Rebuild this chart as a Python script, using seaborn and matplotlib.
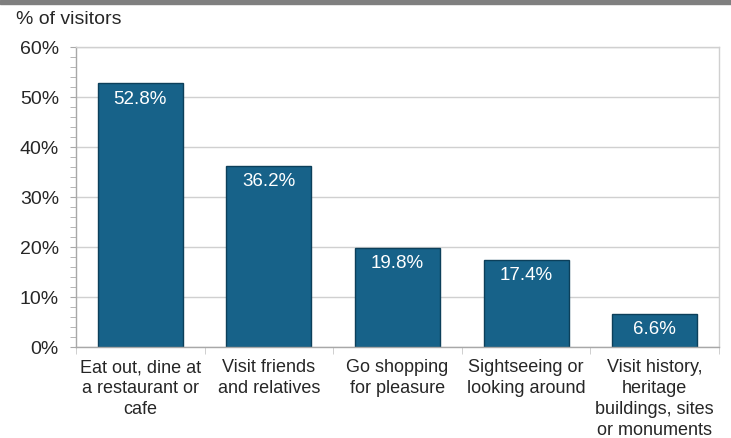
import matplotlib
matplotlib.use("Agg")
import matplotlib.pyplot as plt
import seaborn as sns
import pandas as pd
import numpy as np
from matplotlib.ticker import MultipleLocator, FixedLocator, PercentFormatter

categories = [
    "Eat out, dine at\na restaurant or\ncafe",
    "Visit friends\nand relatives",
    "Go shopping\nfor pleasure",
    "Sightseeing or\nlooking around",
    "Visit history,\nheritage\nbuildings, sites\nor monuments",
]
values = [52.8, 36.2, 19.8, 17.4, 6.6]
value_labels = ["52.8%", "36.2%", "19.8%", "17.4%", "6.6%"]

df = pd.DataFrame({"activity": categories, "share": values})

sns.set_style("white")
plt.rcParams["font.family"] = ["Liberation Sans", "DejaVu Sans"]

W, H = 731, 438
fig = plt.figure(figsize=(W / 100, H / 100), dpi=100)
left, right, top, bottom = 76, 719, 47, 347
ax = fig.add_axes([left / W, 1 - bottom / H, (right - left) / W, (bottom - top) / H])

bar_color = "#176289"
sns.barplot(data=df, x="activity", y="share", color=bar_color, width=0.66,
            edgecolor="#0c3f5a", linewidth=1.0, saturation=1, ax=ax)

for i, (v, lab) in enumerate(zip(values, value_labels)):
    ax.text(i, v - 1.5, lab, ha="center", va="top", color="white", fontsize=13.5)

ax.set_ylim(0, 60)
ax.set_xlim(-0.5, len(categories) - 0.5)
ax.yaxis.set_major_locator(MultipleLocator(10))
ax.yaxis.set_minor_locator(MultipleLocator(2))
ax.yaxis.set_major_formatter(PercentFormatter(decimals=0))
ax.grid(axis="y", color="#d0d0d0", linewidth=1.0)
ax.set_axisbelow(True)
ax.set_xlabel("")
ax.set_ylabel("")

ax.tick_params(axis="y", which="major", length=4.3, color="#a8a8a8", labelsize=14, pad=8, left=True)
ax.tick_params(axis="y", which="minor", length=4.3, color="#a8a8a8", left=True)
ax.xaxis.set_minor_locator(FixedLocator(np.arange(-0.5, len(categories), 1.0)))
ax.tick_params(axis="x", which="major", length=0, labelsize=13, pad=9)
ax.tick_params(axis="x", which="minor", length=5, color="#c8c8c8", bottom=True)
for lbl in ax.get_xticklabels():
    lbl.set_linespacing(1.3)

for side in ["left", "bottom"]:
    ax.spines[side].set_color("#a8a8a8")
for side in ["right", "top"]:
    ax.spines[side].set_color("#d0d0d0")
for s in ax.spines.values():
    s.set_linewidth(1.0)

fig.text(16 / W, 1 - 20 / H, "% of visitors", fontsize=14, va="center", ha="left")
fig.patches.append(plt.Rectangle((0, 1 - 4 / H), 1, 4 / H, transform=fig.transFigure,
                                 color="#7f7f7f", zorder=5))

fig.savefig("out.png", dpi=100)
